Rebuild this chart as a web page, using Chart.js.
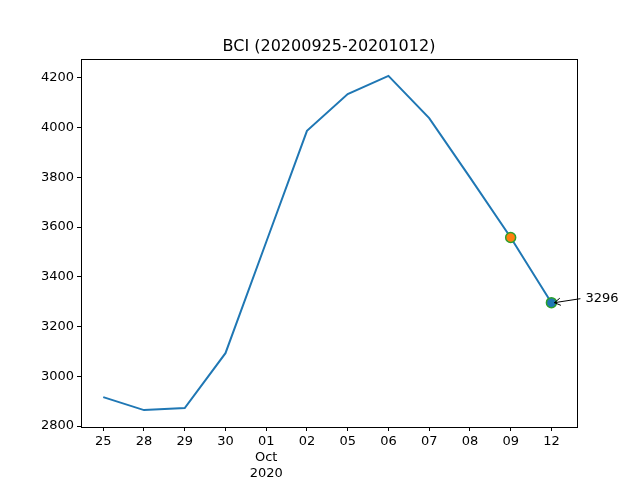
<!DOCTYPE html>
<html>
<head>
<meta charset="utf-8">
<script src="https://cdn.jsdelivr.net/npm/chart.js@4"></script>
<style>
  html, body { margin: 0; padding: 0; background: #fff; }
  #wrap { width: 640px; height: 480px; }
</style>
</head>
<body>
<div id="wrap"><canvas id="bciChart" width="640" height="480"></canvas></div>
<script>
'use strict';

// Dates shown on the x axis (trading days)
const dayLabels = ['25', '28', '29', '30', '01', '02', '05', '06', '07', '08', '09', '12'];
const bciValues = [2916, 2864, 2872, 3093, 3540, 3987, 4135, 4208, 4038, 3800, 3558, 3296];
const yTicks = [2800, 3000, 3200, 3400, 3600, 3800, 4000, 4200];
const chartTitle = 'BCI (20200925-20201012)';
const lastLabel = '3296';

const FONT = 'DejaVu Sans';

// Box round the plot area, title, and the arrow note on the last point
const framePlugin = {
    id: 'frame',
    afterDraw(chart) {
        const { ctx, chartArea: a } = chart;
        ctx.save();
        ctx.strokeStyle = '#000';
        ctx.lineWidth = 1;
        ctx.strokeRect(a.left + 0.5, a.top + 0.5, a.right - a.left, a.bottom - a.top);

        ctx.fillStyle = '#000';
        ctx.font = '16px ' + FONT;
        ctx.textAlign = 'center';
        ctx.textBaseline = 'alphabetic';
        ctx.fillText(chartTitle, (a.left + a.right) / 2, a.top - 8);

        // annotation for the last value
        const last = chart.getDatasetMeta(0).data[bciValues.length - 1];
        const tx = last.x + 29, ty = last.y - 4;
        ctx.strokeStyle = '#000';
        ctx.lineWidth = 1;
        ctx.beginPath();
        ctx.moveTo(tx, ty);
        ctx.lineTo(last.x + 3, last.y);
        ctx.stroke();
        const ang = Math.atan2(last.y - ty, last.x + 3 - tx);
        ctx.beginPath();
        ctx.moveTo(last.x + 3 + Math.cos(ang + 2.6) * 7, last.y + Math.sin(ang + 2.6) * 7);
        ctx.lineTo(last.x + 3, last.y);
        ctx.lineTo(last.x + 3 + Math.cos(ang - 2.6) * 7, last.y + Math.sin(ang - 2.6) * 7);
        ctx.stroke();
        ctx.font = '13px ' + FONT;
        ctx.textAlign = 'left';
        ctx.textBaseline = 'middle';
        ctx.fillText(lastLabel, tx + 5, ty);
        ctx.restore();
    }
};

const pointSizes = bciValues.map((v, i) => (i === 10 || i === 11) ? 5 : 0);
const pointFills = bciValues.map((v, i) => i === 10 ? '#ff7f0e' : '#1f77b4');

new Chart(document.getElementById('bciChart'), {
    type: 'line',
    data: {
        datasets: [{
            data: bciValues.map((v, i) => ({ x: i, y: v })),
            borderColor: '#1f77b4',
            borderWidth: 2,
            tension: 0,
            pointRadius: pointSizes,
            pointBackgroundColor: pointFills,
            pointBorderColor: '#2ca02c',
            pointBorderWidth: 1.5,
            clip: false
        }]
    },
    options: {
        responsive: false,
        animation: false,
        layout: { padding: { left: 0, right: 63, top: 59, bottom: 0 } },
        plugins: {
            legend: { display: false },
            tooltip: { enabled: false }
        },
        scales: {
            x: {
                type: 'linear',
                min: -0.546,
                max: dayLabels.length - 1 + 0.628,
                afterFit(scale) { scale.height = 53; },
                afterBuildTicks(scale) {
                    scale.ticks = dayLabels.map((d, i) => ({ value: i }));
                },
                grid: { drawOnChartArea: false, drawTicks: true, tickLength: 4, tickColor: '#000' },
                border: { display: false },
                ticks: {
                    color: '#000',
                    font: { family: FONT, size: 13, lineHeight: 1.25 },
                    padding: 2,
                    maxRotation: 0,
                    autoSkip: false,
                    callback: (v) => {
                        const d = dayLabels[v];
                        return d === '01' ? ['01', 'Oct', '2020'] : d;
                    }
                }
            },
            y: {
                min: 2796,
                max: 4276,
                afterFit(scale) { scale.width = 81; },
                afterBuildTicks(scale) {
                    scale.ticks = yTicks.map(v => ({ value: v }));
                },
                grid: { drawOnChartArea: false, drawTicks: true, tickLength: 4, tickColor: '#000' },
                border: { display: false },
                ticks: {
                    color: '#000',
                    font: { family: FONT, size: 13 },
                    padding: 3,
                    callback: (v) => String(v)
                }
            }
        }
    },
    plugins: [framePlugin]
});
</script>
</body>
</html>
